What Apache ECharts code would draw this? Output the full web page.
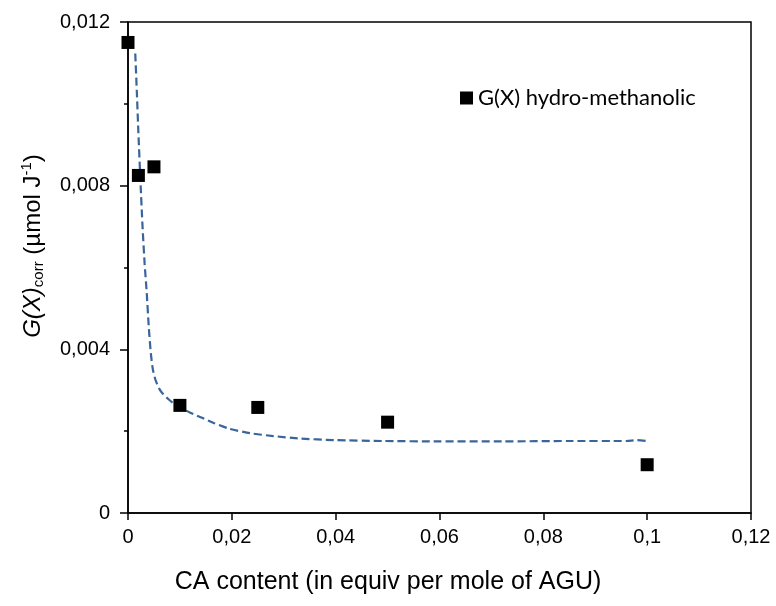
<!DOCTYPE html>
<html>
<head>
<meta charset="utf-8">
<script src="https://cdn.jsdelivr.net/npm/echarts@6/dist/echarts.min.js"></script>
<style>
html,body{margin:0;padding:0;background:#fff;}
#c{width:776px;height:606px;}
</style>
</head>
<body>
<div id="c"></div>
<script>
// Measured data points (CA content, G(X)corr)
var pointX = [0, 0.002, 0.005, 0.01, 0.025, 0.05, 0.1];
var pointY = [0.0115, 0.00825, 0.00846, 0.00263, 0.00258, 0.00222, 0.00118];
// Fitted dashed curve
var curveX = [0.0014, 0.0017, 0.0020, 0.0024, 0.0028, 0.0032, 0.0036, 0.0040, 0.0044, 0.0048, 0.0053, 0.0060, 0.0068, 0.0078, 0.0090, 0.0105, 0.0120, 0.0140, 0.0165, 0.0195, 0.0235, 0.0280, 0.0330, 0.0400, 0.0490, 0.0600, 0.0720, 0.0850, 0.0960, 0.0980, 0.1000];
var curveY = [0.01123, 0.0103, 0.0093, 0.0081, 0.0070, 0.0061, 0.0054, 0.00455, 0.0039, 0.0035, 0.00325, 0.00304, 0.00290, 0.00278, 0.00266, 0.00255, 0.00245, 0.00234, 0.00220, 0.00206, 0.00195, 0.00188, 0.00182, 0.00178, 0.00176, 0.00175, 0.00175, 0.00176, 0.00176, 0.00178, 0.00176];
var xTicks = {min: 0, max: 0.12, interval: 0.02};
var yTicks = {min: 0, max: 0.012, interval: 0.004};
var seriesName = 'G(X) hydro-methanolic';

function zipXY(xs, ys){ return xs.map(function(x,i){ return [x, ys[i]]; }); }
function fmt(d){ return function(v){ return String(+(+v).toFixed(d)).replace('.', ','); }; }

var chart = echarts.init(document.getElementById('c'));
chart.setOption({
  backgroundColor: '#fff',
  animation: false,
  grid: {left: 128, top: 22, right: 25, bottom: 93, show: true, borderColor: '#000', borderWidth: 1.5, backgroundColor: 'transparent'},
  legend: {
    data: [seriesName], left: 455, top: 82, icon: 'rect', itemWidth: 13, itemHeight: 13, itemGap: 6,
    itemStyle: {opacity: 1, color: '#000'},
    textStyle: {fontFamily: 'Lato', fontSize: 22, color: '#000'}
  },
  xAxis: {
    type: 'value', min: xTicks.min, max: xTicks.max, interval: xTicks.interval,
    axisLine: {lineStyle: {color: '#000', width: 1.5}},
    axisTick: {show: true, length: 7, lineStyle: {color: '#000', width: 1.5}},
    axisLabel: {formatter: fmt(2), fontFamily: 'Liberation Sans', fontSize: 20, color: '#000', margin: 14},
    splitLine: {show: false}
  },
  yAxis: {
    type: 'value', min: yTicks.min, max: yTicks.max, interval: yTicks.interval,
    axisLine: {show: true, lineStyle: {color: '#000', width: 1.5}},
    axisTick: {show: true, length: 8, lineStyle: {color: '#000', width: 1.5}},
    minorTick: {show: true, splitNumber: 2, length: 4, lineStyle: {color: '#000', width: 1.5}},
    axisLabel: {formatter: fmt(3), fontFamily: 'Liberation Sans', fontSize: 20, color: '#000', margin: 18},
    splitLine: {show: false}
  },
  graphic: [
    {type: 'text', left: 'center', top: 570, style: {text: 'CA content (in equiv per mole of AGU)', fontFamily: 'Liberation Sans', fontSize: 25, fill: '#000'}, x: -14},
    {type: 'text', x: 33, y: 246, rotation: Math.PI/2,
     style: {
       text: '{i|G(X)}{sub|corr}{n| (µmol J}{sup|-1}{n|)}',
       align: 'center', verticalAlign: 'middle',
       rich: {
         i: {fontFamily: 'Liberation Sans', fontStyle: 'italic', fontSize: 24, fill: '#000'},
         n: {fontFamily: 'Liberation Sans', fontSize: 24, fill: '#000'},
         sub: {fontFamily: 'Liberation Sans', fontSize: 15, fill: '#000', padding: [12, 0, 0, 0]},
         sup: {fontFamily: 'Liberation Sans', fontSize: 15, fill: '#000', padding: [0, 0, 12, 0]}
       }
     }}
  ],
  series: [
    {
      name: 'fit', type: 'line', data: zipXY(curveX, curveY), showSymbol: false, symbol: 'none',
      smooth: 0.2,
      lineStyle: {color: '#3a649c', width: 2.2, type: [8, 4]}, z: 2, silent: true
    },
    {
      name: seriesName, type: 'scatter', data: zipXY(pointX, pointY), symbol: 'rect', symbolSize: 13,
      itemStyle: {color: '#000', opacity: 1}, z: 3
    }
  ]
});
</script>
</body>
</html>
